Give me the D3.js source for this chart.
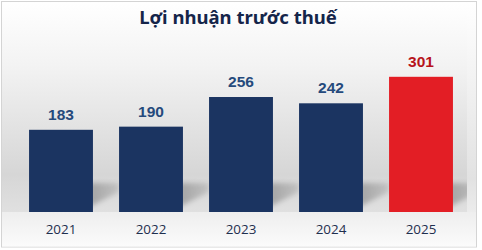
<!DOCTYPE html>
<html>
<head>
<meta charset="utf-8">
<script src="https://cdn.jsdelivr.net/npm/d3@7/dist/d3.min.js"></script>
<style>
  html, body { margin: 0; padding: 0; background: #ffffff; }
  svg { display: block; }
</style>
</head>
<body>
<div id="chart"></div>
<script>
// Lợi nhuận trước thuế theo năm
const years = ["2021", "2022", "2023", "2024", "2025"];
const profits = [183, 190, 256, 242, 301];
const highlightYear = "2025";
const titleText = "Lợi nhuận trước thuế";

const W = 482, H = 250;
const navy = "#1b3461", red = "#e31e25";
const navyLabel = "#254a7c", redLabel = "#b7141c";

const svg = d3.select("#chart").append("svg")
  .attr("width", W).attr("height", H);

const defs = svg.append("defs");

const bgOuter = defs.append("linearGradient")
  .attr("id", "bgOuter").attr("x1", 0).attr("y1", 0).attr("x2", 0).attr("y2", 1);
[[0, "#ffffff"], [0.25, "#f5f5f5"], [0.72, "#e2e2e2"], [0.86, "#ececec"], [1, "#fbfbfb"]]
  .forEach(([o, c]) => bgOuter.append("stop").attr("offset", o).attr("stop-color", c));

const bgPlot = defs.append("linearGradient")
  .attr("id", "bgPlot").attr("x1", 0).attr("y1", 0).attr("x2", 0).attr("y2", 1);
[[0, "#ffffff"], [0.3, "#f3f3f3"], [0.82, "#d6d6d6"], [1, "#e0e0e0"]]
  .forEach(([o, c]) => bgPlot.append("stop").attr("offset", o).attr("stop-color", c));

const bgFloor = defs.append("linearGradient")
  .attr("id", "bgFloor").attr("x1", 0).attr("y1", 0).attr("x2", 0).attr("y2", 1);
[[0, "#eeeeee"], [1, "#fbfbfb"]]
  .forEach(([o, c]) => bgFloor.append("stop").attr("offset", o).attr("stop-color", c));

const shadowGrad = defs.append("linearGradient")
  .attr("id", "shadowGrad").attr("x1", 0).attr("y1", 0).attr("x2", 1).attr("y2", 0);
[[0, "#9a9a9a"], [1, "#bdbdbd"]]
  .forEach(([o, c]) => shadowGrad.append("stop").attr("offset", o).attr("stop-color", c));

defs.append("filter").attr("id", "soft")
  .attr("x", "-30%").attr("y", "-30%").attr("width", "160%").attr("height", "160%")
  .append("feGaussianBlur").attr("stdDeviation", 2.6);

defs.append("clipPath").attr("id", "plotClip")
  .append("rect").attr("x", 2).attr("y", 2).attr("width", 465).attr("height", 210);

// Panel background and frame
svg.append("rect").attr("x", 1.5).attr("y", 1.5).attr("width", 475).attr("height", 245.5)
  .attr("fill", "url(#bgOuter)").attr("stroke", "#d4d4d4").attr("stroke-width", 1);

const x = d3.scaleBand().domain(years).range([16, 466]).paddingInner(0.29).paddingOuter(0.145);
const y = d3.scaleLinear().domain([0, 301]).range([212, 76.8]);
const baseY = y(0);

svg.append("rect").attr("x", 2).attr("y", 2).attr("width", 465).attr("height", baseY - 2)
  .attr("fill", "url(#bgPlot)");
svg.append("rect").attr("x", 2).attr("y", baseY).attr("width", 474).attr("height", 246.5 - baseY)
  .attr("fill", "url(#bgFloor)");

// Cast shadows behind each bar
svg.append("g").attr("clip-path", "url(#plotClip)")
  .selectAll("path").data(years).join("path")
  .attr("d", d => {
    const x1 = x(d) + x.bandwidth();
    return `M${x1 - 4},${baseY - 5} L${x1 + 26},${baseY - 20} L${x1 + 26},${baseY - 29} L${x1 - 4},${baseY - 29} Z`;
  })
  .attr("fill", "url(#shadowGrad)")
  .attr("opacity", 0.85)
  .attr("filter", "url(#soft)");

// Bars
svg.append("g").selectAll("rect").data(years).join("rect")
  .attr("x", d => x(d))
  .attr("width", x.bandwidth())
  .attr("y", (d, i) => y(profits[i]))
  .attr("height", (d, i) => baseY - y(profits[i]))
  .attr("fill", d => d === highlightYear ? red : navy);

// Value labels
svg.append("g").selectAll("text").data(years).join("text")
  .attr("x", d => x(d) + x.bandwidth() / 2)
  .attr("y", (d, i) => y(profits[i]) - 10)
  .attr("text-anchor", "middle")
  .attr("font-family", "'Liberation Sans', Arial, sans-serif")
  .attr("font-weight", "bold")
  .attr("font-size", 15.5)
  .attr("fill", d => d === highlightYear ? redLabel : navyLabel)
  .text((d, i) => profits[i]);

// Category axis
const xAxis = svg.append("g").attr("transform", `translate(0,${baseY})`)
  .call(d3.axisBottom(x).tickSize(0).tickPadding(0));
xAxis.select(".domain").remove();
xAxis.selectAll("text")
  .attr("y", 22)
  .attr("dy", 0)
  .attr("font-family", "'Open Sans', 'Liberation Sans', sans-serif")
  .attr("font-size", 13.4)
  .attr("fill", "#1f2f4e");

// Title
svg.append("text")
  .attr("x", 238).attr("y", 23.5)
  .attr("text-anchor", "middle")
  .attr("font-family", "'Noto Sans', 'Open Sans', sans-serif")
  .attr("font-weight", "bold")
  .attr("font-size", 18.5)
  .attr("fill", "#15254a")
  .text(titleText);
</script>
</body>
</html>
